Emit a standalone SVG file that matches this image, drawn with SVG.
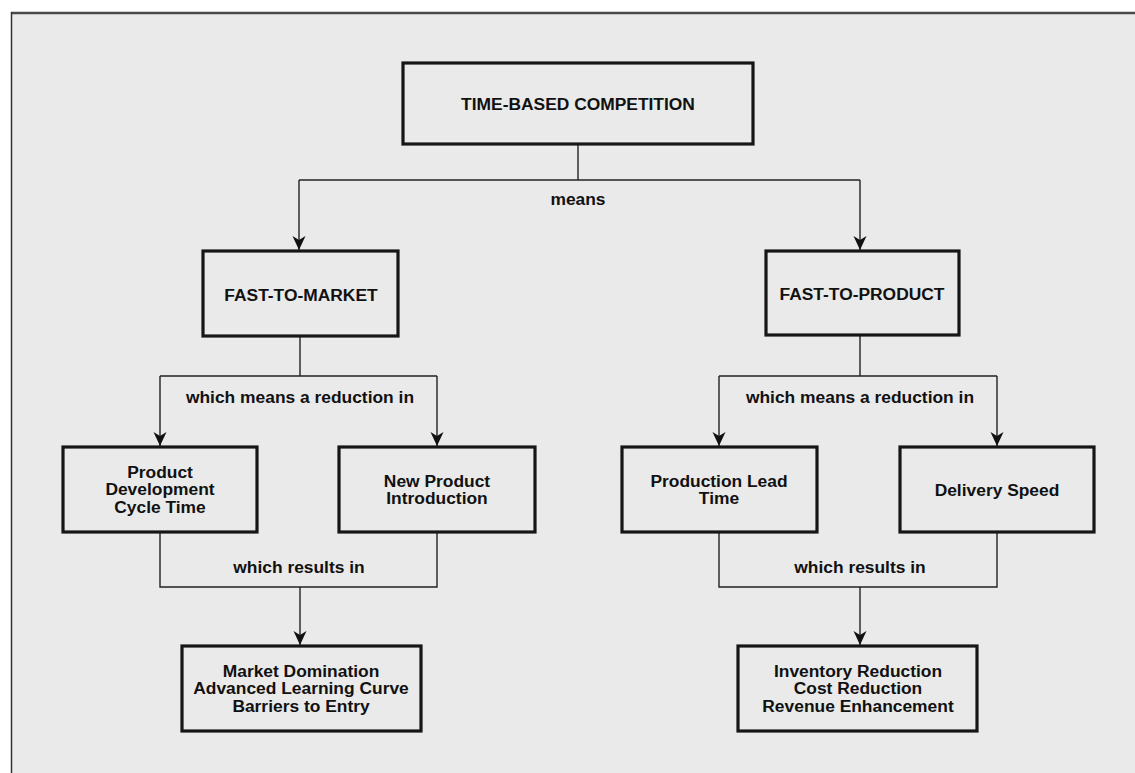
<svg xmlns="http://www.w3.org/2000/svg" width="1135" height="773" viewBox="0 0 1135 773">
<defs>
<style>
.box{fill:none;stroke:#161616;stroke-width:3.2}
.con{fill:none;stroke:#222;stroke-width:1.4}
text{font-family:"Liberation Sans",Arial,sans-serif;font-weight:bold;font-size:17.4px;fill:#111;text-anchor:middle}
</style>
<marker id="arr" markerUnits="userSpaceOnUse" markerWidth="16" markerHeight="16" viewBox="0 0 16 16" refX="15" refY="8" orient="auto">
<path d="M1,1.5 L15,8 L1,14.5 L5,8 Z" fill="#111"/>
</marker>
</defs>
<rect x="0" y="0" width="1135" height="773" fill="#ffffff"/>
<rect x="11" y="12" width="1124" height="761" fill="#eaeaea"/>
<line x1="11" y1="13" x2="1135" y2="13" stroke="#4a4a4a" stroke-width="2.5"/>
<line x1="11.5" y1="12" x2="11.5" y2="773" stroke="#333" stroke-width="1.5"/>

<g id="connectors">
<polyline class="con" points="578,144 578,180"/>
<polyline class="con" points="299,180 860,180"/>
<line class="con" x1="299" y1="180" x2="299" y2="250" marker-end="url(#arr)"/>
<line class="con" x1="860" y1="180" x2="860" y2="250" marker-end="url(#arr)"/>
<text x="578" y="205">means</text>

<polyline class="con" points="300,336 300,376"/>
<polyline class="con" points="160,376 437,376"/>
<line class="con" x1="160" y1="376" x2="160" y2="446" marker-end="url(#arr)"/>
<line class="con" x1="437" y1="376" x2="437" y2="446" marker-end="url(#arr)"/>
<text x="300" y="403">which means a reduction in</text>

<polyline class="con" points="860,336 860,376"/>
<polyline class="con" points="719,376 997,376"/>
<line class="con" x1="719" y1="376" x2="719" y2="446" marker-end="url(#arr)"/>
<line class="con" x1="997" y1="376" x2="997" y2="446" marker-end="url(#arr)"/>
<text x="860" y="403">which means a reduction in</text>

<polyline class="con" points="160,532 160,587 437,587 437,532"/>
<line class="con" x1="300" y1="587" x2="300" y2="645" marker-end="url(#arr)"/>
<text x="299" y="573">which results in</text>

<polyline class="con" points="719,532 719,587 997,587 997,532"/>
<line class="con" x1="860" y1="587" x2="860" y2="645" marker-end="url(#arr)"/>
<text x="860" y="573">which results in</text>
</g>

<g id="time-based-competition">
<rect class="box" x="403" y="63" width="350" height="81"/>
<text x="578" y="110">TIME-BASED COMPETITION</text>
</g>
<g id="fast-to-market">
<rect class="box" x="203" y="251" width="195" height="85"/>
<text x="301" y="301">FAST-TO-MARKET</text>
</g>
<g id="fast-to-product">
<rect class="box" x="766" y="251" width="193" height="84"/>
<text x="862" y="300">FAST-TO-PRODUCT</text>
</g>
<g id="product-development">
<rect class="box" x="63" y="447" width="194" height="85"/>
<text x="160" y="478">Product</text>
<text x="160" y="495">Development</text>
<text x="160" y="513">Cycle Time</text>
</g>
<g id="new-product">
<rect class="box" x="339" y="447" width="196" height="85"/>
<text x="437" y="487">New Product</text>
<text x="437" y="504">Introduction</text>
</g>
<g id="production-lead-time">
<rect class="box" x="622" y="447" width="195" height="85"/>
<text x="719" y="487">Production Lead</text>
<text x="719" y="504">Time</text>
</g>
<g id="delivery-speed">
<rect class="box" x="900" y="447" width="194" height="85"/>
<text x="997" y="496">Delivery Speed</text>
</g>
<g id="market-domination">
<rect class="box" x="182" y="646" width="239" height="85"/>
<text x="301" y="677">Market Domination</text>
<text x="301" y="694">Advanced Learning Curve</text>
<text x="301" y="712">Barriers to Entry</text>
</g>
<g id="inventory-reduction">
<rect class="box" x="738" y="646" width="239" height="85"/>
<text x="858" y="677">Inventory Reduction</text>
<text x="858" y="694">Cost Reduction</text>
<text x="858" y="712">Revenue Enhancement</text>
</g>
</svg>
